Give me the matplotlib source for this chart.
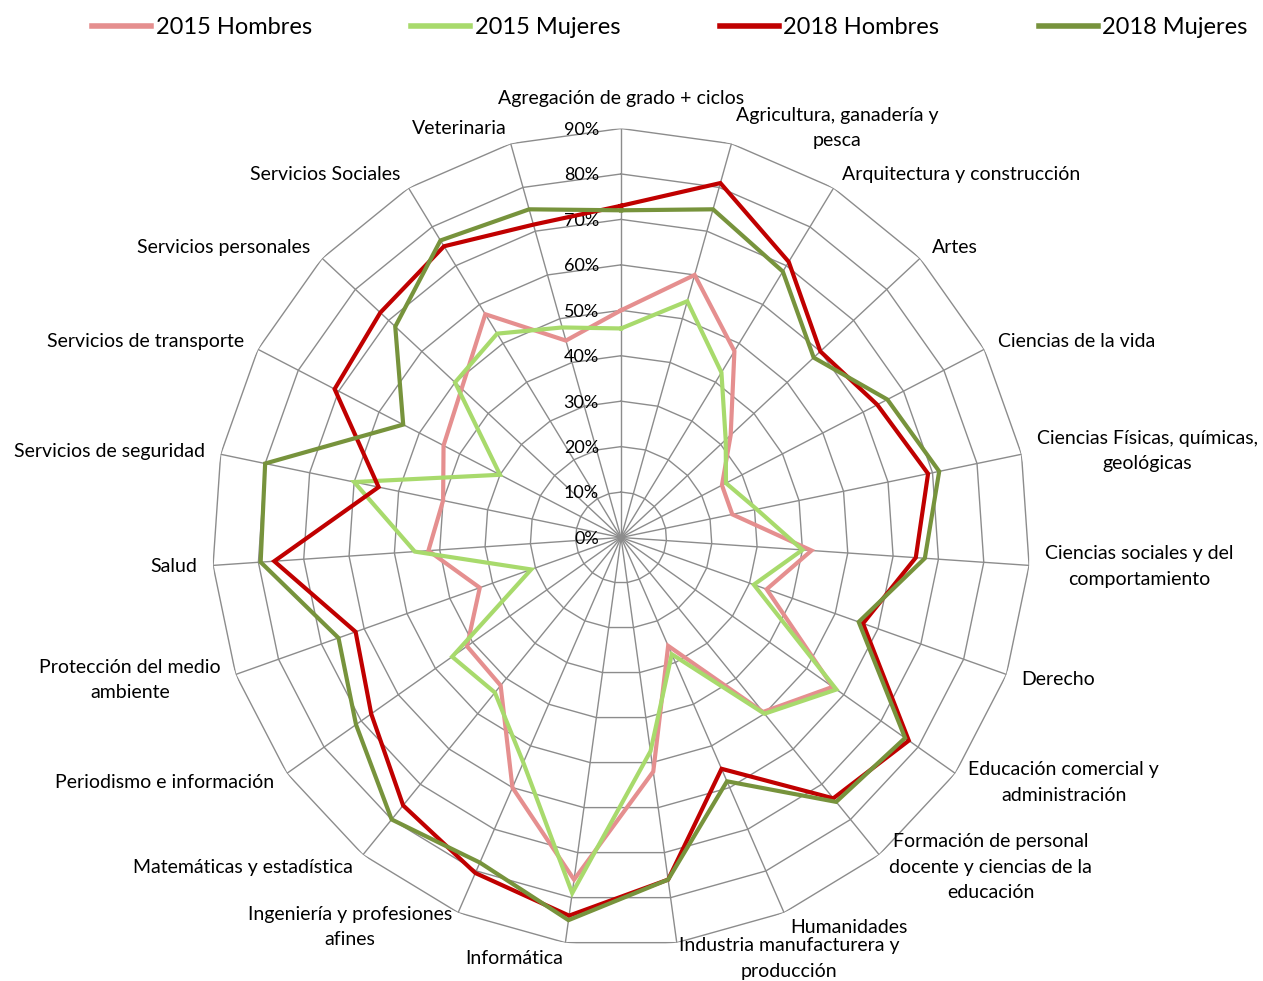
import numpy as np
import matplotlib
matplotlib.use('Agg')
import matplotlib.pyplot as plt

categories = [
    'Agregación de grado + ciclos',
    'Agricultura, ganadería y\npesca',
    'Arquitectura y construcción',
    'Artes',
    'Ciencias de la vida',
    'Ciencias Físicas, químicas,\ngeológicas',
    'Ciencias sociales y del\ncomportamiento',
    'Derecho',
    'Educación comercial y\nadministración',
    'Formación de personal\ndocente y ciencias de la\neducación',
    'Humanidades',
    'Industria manufacturera y\nproducción',
    'Informática',
    'Ingeniería y profesiones\nafines',
    'Matemáticas y estadística',
    'Periodismo e información',
    'Protección del medio\nambiente',
    'Salud',
    'Servicios de seguridad',
    'Servicios de transporte',
    'Servicios personales',
    'Servicios Sociales',
    'Veterinaria',
]

hombres_2015 = [50, 60, 48, 33, 25, 25, 42, 34, 57, 49.5, 26, 52, 76, 60, 42, 41.5, 33, 42.5, 40, 44, 48, 57.5, 45]
mujeres_2015 = [46, 54, 42.5, 31.5, 26, 30.5, 40, 31, 58, 50, 28, 47.5, 79, 54, 44, 45.5, 21, 45.5, 60, 30, 50, 52.5, 48]
hombres_2018 = [73, 81, 71, 60, 63.5, 69, 65, 56.5, 77.5, 74, 55.5, 76, 84, 80.5, 76, 67.3, 62, 76.5, 54.5, 71, 72.5, 75, 71.5]
mujeres_2018 = [72, 75, 68.5, 58, 66, 71.5, 67, 55.5, 76.5, 75, 58.5, 76, 85, 78, 80, 71.4, 66, 79.5, 80, 54, 68, 76.5, 75]

series_names = ['2015 Hombres', '2015 Mujeres', '2018 Hombres', '2018 Mujeres']
series_colors = ['#E58F8F', '#A8DA6C', '#C00000', '#77933C']
tick_values = [0, 10, 20, 30, 40, 50, 60, 70, 80, 90]
tick_labels = ['%d%%' % v for v in tick_values]

plt.rcParams['font.family'] = ['Lato', 'DejaVu Sans']

fig = plt.figure(figsize=(12.63, 9.81), dpi=100)
ax = fig.add_axes([0.1679, 0.0352, 0.6477, 0.8338], projection='polar')
n = len(categories)
theta = np.arange(n) * 2 * np.pi / n
theta_c = np.append(theta, theta[0])

ax.set_theta_zero_location('N')
ax.set_theta_direction(-1)
ax.set_ylim(0, tick_values[-1])
ax.grid(False)
ax.set_xticks([])
ax.set_yticks([])
ax.spines['polar'].set_visible(False)
ax.patch.set_visible(False)

grid_color = '#8C8C8C'
for v in tick_values[1:]:
    ax.plot(theta_c, [v] * (n + 1), color=grid_color, lw=1.0, zorder=1)
for t in theta:
    ax.plot([t, t], [0, tick_values[-1]], color=grid_color, lw=1.0, zorder=1)

for v, lab in zip(tick_values, tick_labels):
    ax.annotate(lab, xy=(0, v), xytext=(-16, -1), textcoords='offset points',
                ha='right', va='center', fontsize=13, color='black', zorder=3)

handles = []
for vals, col, name in zip([hombres_2015, mujeres_2015, hombres_2018, mujeres_2018],
                           series_colors, series_names):
    ln, = ax.plot(theta_c, list(vals) + [vals[0]], color=col, lw=3.0,
                  solid_joinstyle='miter', zorder=4, label=name)
    handles.append(ln)

r_lab = tick_values[-1] * 425.0 / 409.0
for t, lab in zip(theta, categories):
    s = np.sin(t)
    if abs(s) < 0.01:
        ax.annotate(lab, xy=(t, r_lab), xytext=(0, 4), textcoords='offset points',
                    ha='center', va='bottom', fontsize=14, annotation_clip=False)
        continue
    ha = 'left' if s > 0 else 'right'
    ax.text(t, r_lab, lab, ha=ha, va='center', multialignment='center',
            fontsize=14, linespacing=1.6, clip_on=False)

leg = fig.legend(handles, series_names, loc='center', bbox_to_anchor=(0.5305, 0.9715),
                 ncol=4, frameon=False, fontsize=17, handlelength=2.5,
                 handletextpad=0.2, columnspacing=4.2)
for lh in leg.get_lines():
    lh.set_linewidth(4.0)

fig.savefig('out.png', dpi=100)
